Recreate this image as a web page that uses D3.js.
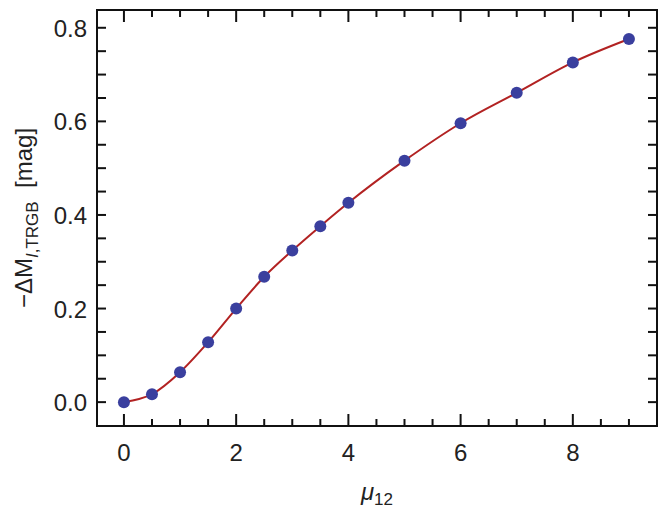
<!DOCTYPE html><html><head><script src="https://cdn.jsdelivr.net/npm/d3@7"></script>
<style>body{margin:0;background:#fff}</style></head><body><svg width="664" height="512"></svg>
<script>
const mu = [0,0.5,1,1.5,2,2.5,3,3.5,4,5,6,7,8,9];
const dM = [0,0.017,0.064,0.128,0.2,0.268,0.324,0.376,0.426,0.516,0.596,0.661,0.726,0.776];
const xTicks = [0,2,4,6,8];
const yTicks = [0.0,0.2,0.4,0.6,0.8];
const svg = d3.select("svg");
const L=97,R=657,T=10,B=426;
const x = d3.scaleLinear().domain([-0.48,9.5]).range([L,R]);
const y = d3.scaleLinear().domain([-0.051,0.838]).range([B,T]);
const g = svg.append("g");
const font = "Helvetica, Liberation Sans, Arial, sans-serif";
const xMinor = d3.range(0,9.51,0.5), yMinor = d3.range(0,0.8376,0.05);
xMinor.forEach(v=>{const maj=Math.abs(v-Math.round(v/2)*2)<1e-6; const len=maj?12:7;
  g.append("line").attr("x1",x(v)).attr("x2",x(v)).attr("y1",B).attr("y2",B-len).attr("stroke","#111").attr("stroke-width",2);
  g.append("line").attr("x1",x(v)).attr("x2",x(v)).attr("y1",T).attr("y2",T+len).attr("stroke","#111").attr("stroke-width",2);});
yMinor.forEach(v=>{
  g.append("line").attr("x1",L).attr("x2",L+9).attr("y1",y(v)).attr("y2",y(v)).attr("stroke","#111").attr("stroke-width",2);
  g.append("line").attr("x1",R).attr("x2",R-9).attr("y1",y(v)).attr("y2",y(v)).attr("stroke","#111").attr("stroke-width",2);});
g.append("rect").attr("x",L).attr("y",T).attr("width",R-L).attr("height",B-T).attr("fill","none").attr("stroke","#111").attr("stroke-width",2);
xTicks.forEach(v=>g.append("text").attr("x",x(v)).attr("y",B+35).attr("text-anchor","middle").attr("font-family",font).attr("font-size",24).attr("fill","#222").text(v));
yTicks.forEach(v=>g.append("text").attr("x",L-10).attr("y",y(v)+9).attr("text-anchor","end").attr("font-family",font).attr("font-size",24).attr("fill","#222").text(v.toFixed(1)));
const line = d3.line().x((d,i)=>x(mu[i])).y(d=>y(d)).curve(d3.curveMonotoneX);
g.append("path").attr("d",line(dM)).attr("fill","none").attr("stroke","#b22222").attr("stroke-width",2);
g.selectAll("circle").data(dM).join("circle").attr("cx",(d,i)=>x(mu[i])).attr("cy",d=>y(d)).attr("r",6).attr("fill","#3a3f9e");
const xl = svg.append("text").attr("x",(L+R)/2).attr("y",500).attr("text-anchor","middle").attr("font-family",font).attr("font-size",24).attr("fill","#222");
xl.append("tspan").attr("font-style","italic").text("μ");
xl.append("tspan").attr("font-size",17).attr("dy",5).text("12");
const yl = svg.append("text").attr("transform",`translate(32,${(T+B)/2}) rotate(-90)`).attr("text-anchor","middle").attr("font-family",font).attr("font-size",24).attr("fill","#222");
yl.append("tspan").text("−ΔM");
yl.append("tspan").attr("font-size",17).attr("font-style","italic").attr("dy",6).text("I");
yl.append("tspan").attr("font-size",17).text(",TRGB");
yl.append("tspan").attr("dy",-6).text("\u00a0\u00a0[mag]");
</script></body></html>
